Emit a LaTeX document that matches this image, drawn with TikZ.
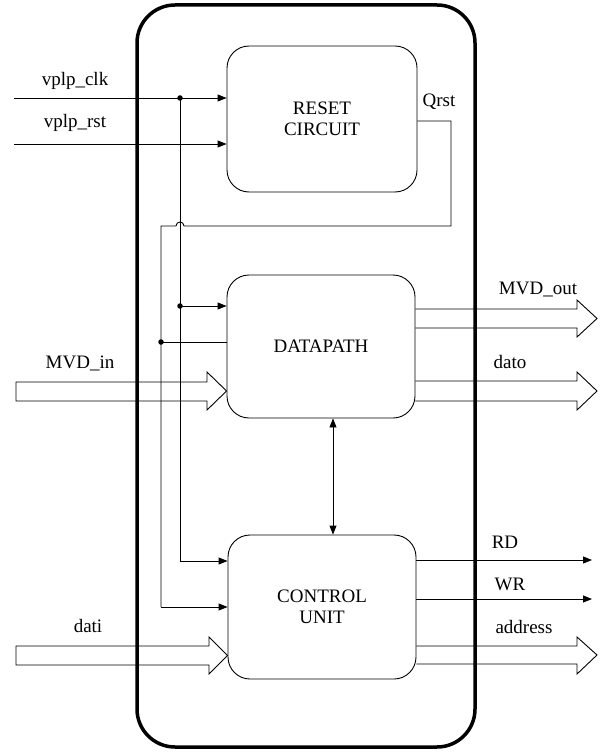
\documentclass[tikz,border=0pt]{standalone}
\usepackage{fontspec}
\setmainfont{Liberation Serif}
\usetikzlibrary{arrows.meta,calc}
\tikzset{
  blk/.style={draw, rounded corners=22pt, line width=0.9pt, inner sep=0pt, align=center,
    font=\fontsize{19}{21.5}\selectfont},
  lbl/.style={inner sep=0pt, font=\fontsize{19}{21.5}\selectfont},
  wire/.style={line width=0.9pt},
  sig/.style={wire, -{Triangle[length=9pt,width=7pt]}},
  bsig/.style={wire, {Triangle[length=9pt,width=7pt]}-{Triangle[length=9pt,width=7pt]}},
  bus/.style={draw, line width=0.9pt, line join=miter},
  dot/.style={circle, fill=black, inner sep=0pt, minimum size=5.5pt},
  outer/.style={draw, line width=3.5pt, rounded corners=38pt}
}
\begin{document}
\begin{tikzpicture}[x=1pt,y=-1pt]
\useasboundingbox (0,0) rectangle (600,754);

% blocks
\node[blk, minimum width=190pt, minimum height=146pt] (rc) at (322,119) {RESET\\CIRCUIT};
\node[blk, minimum width=188pt, minimum height=143pt] (dp) at (321,346.5) {DATAPATH};
\node[blk, minimum width=188pt, minimum height=144pt] (cu) at (322,607) {CONTROL\\UNIT};

% coordinates
\coordinate (clkin) at (14,98);
\coordinate (rstin) at (14,144);
\coordinate (rdout) at (592,560);
\coordinate (wrout) at (592,599);
\coordinate (qa) at (451,121);
\coordinate (qb) at (451,226);
\coordinate (qc) at (161,226);
\node[dot] (j1) at (180,98) {};
\node[dot] (j2) at (180,306) {};
\node[dot] (j3) at (161,342) {};
\coordinate (c1) at (180,561);
\coordinate (c2) at (161,607);
\coordinate (bx) at (333,0);

% clock / reset inputs
\draw[sig] (clkin) -- (clkin -| rc.west);
\draw[sig] (rstin) -- (rstin -| rc.west);

% clock distribution
\draw[wire] (j1.center) -- (c1);
\draw[sig] (c1) -- (c1 -| cu.west);
\draw[sig] (j2.center) -- (j2 -| dp.west);

% Qrst distribution
\draw[wire] (qa -| rc.east) -- (qa) -- (qb) -- (184,226)
  .. controls (184,220.7) and (176,220.7) .. (176,226) -- (qc) -- (c2);
\draw[sig] (c2) -- (c2 -| cu.west);
\draw[wire] (j3.center) -- (j3 -| dp.west);

% datapath <-> control
\draw[bsig] (bx |- dp.south) -- (bx |- cu.north);

% control outputs
\draw[sig] (rdout -| cu.east) -- (rdout);
\draw[sig] (wrout -| cu.east) -- (wrout);

% buses
\draw[bus] (16,382) -- (207,382) -- (207,372) -- (dp.west |- 0,391) -- (207,410) -- (207,401) -- (16,401) -- cycle;
\draw[bus] (16,646) -- (209,646) -- (209,637) -- (cu.west |- 0,655.5) -- (209,674) -- (209,665) -- (16,665) -- cycle;
\draw[bus] (dp.east |- 0,309) -- (577,309) -- (577,300) -- (597,318.5) -- (577,337) -- (577,328) -- (dp.east |- 0,328);
\draw[bus] (dp.east |- 0,381) -- (577,381) -- (577,372) -- (597,391) -- (577,410) -- (577,401) -- (dp.east |- 0,401);
\draw[bus] (cu.east |- 0,646) -- (577,646) -- (577,637) -- (597,655) -- (577,674) -- (577,664) -- (cu.east |- 0,664);

% outer chip boundary
\draw[outer] (137,5) rectangle (475,747);

% labels
\node[lbl] (lclk) at (75,81) {vplp\_clk};
\node[lbl] (lrst) at (75,123) {vplp\_rst};
\node[lbl] (lq) at (439,102) {Qrst};
\node[lbl] (lmin) at (80,363) {MVD\_in};
\node[lbl] (ldati) at (88,626) {dati};
\node[lbl] (lmout) at (538,290) {MVD\_out};
\node[lbl] (ldato) at (510,362) {dato};
\node[lbl] (lrd) at (505,542) {RD};
\node[lbl] (lwr) at (510,584) {WR};
\node[lbl] (laddr) at (524,627) {address};
\end{tikzpicture}
\end{document}
